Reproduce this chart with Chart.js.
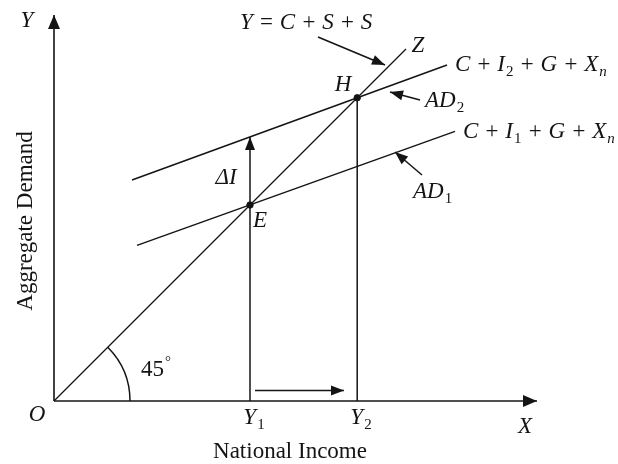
<!DOCTYPE html>
<html>
<head>
<meta charset="utf-8">
<title>Aggregate Demand and the Investment Multiplier</title>
<script src="https://cdn.jsdelivr.net/npm/chart.js@4.4.1/dist/chart.umd.min.js"></script>
<style>
  html, body { margin: 0; padding: 0; background: #fff; }
  #wrap { width: 618px; height: 464px; }
</style>
</head>
<body>
<div id="wrap"><canvas id="ad-chart" width="618" height="464"></canvas></div>
<script>
// Axis extents (national income on x, aggregate demand on y)
const xMax = 120.75;
const yMax = 96.5;

// Axes
const xAxisLine = [[0, 0], [xMax, 0]];
const yAxisLine = [[0, 0], [0, yMax]];

// 45 degree line Y = C + S + S, ending at Z
const diagonal = [[0, 0], [88, 88]];

// Aggregate demand schedules
const ad1 = [[20.75, 38.9], [100.25, 67.4]];   // C + I1 + G + Xn
const ad2 = [[19.5, 55.25], [98.25, 84.0]];    // C + I2 + G + Xn

// Equilibrium points E and H
const equilibria = [[49, 49], [75.8, 75.8]];

// Y1 up to AD2 (delta I), Y2 down from H, shift Y1 -> Y2
const y1Rise = [[49, 0], [49, 66]];
const y2Drop = [[75.8, 75.8], [75.8, 0]];
const incomeShift = [[50.25, 2.6], [72.5, 2.6]];

// Pointer arrows for the line captions
const diagonalPointer = [[66, 91], [82.75, 84]];
const ad2Pointer = [[91.5, 75.25], [84, 77.25]];
const ad1Pointer = [[92, 56.5], [85.25, 62.25]];

// 45 degree marker radius
const angleRadius = 19;

const toPoints = arr => arr.map(p => ({ x: p[0], y: p[1] }));

const ink = '#141414';

function lineSet(pts, opts) {
    return Object.assign({
        data: toPoints(pts),
        showLine: true,
        borderColor: ink,
        borderWidth: 1.5,
        pointRadius: 0,
        clip: false
    }, opts || {});
}

// Captions: position in data units, text with _x for subscript, ^x for superscript
const captions = [
    { t: 'Y', x: -6.75, y: 95, align: 'center' },
    { t: 'O', x: -4.25, y: -3.5, align: 'center' },
    { t: 'X', x: 117.75, y: -6.5, align: 'center' },
    { t: 'Y_1', x: 50, y: -4.25, align: 'center' },
    { t: 'Y_2', x: 76.75, y: -4.25, align: 'center' },
    { t: '45^°', x: 25.5, y: 7.75, align: 'center', upright: true },
    { t: 'ΔI', x: 43, y: 55.75, align: 'center' },
    { t: 'E', x: 51.5, y: 45, align: 'center' },
    { t: 'H', x: 72.25, y: 79, align: 'center' },
    { t: 'Z', x: 91, y: 88.75, align: 'center' },
    { t: 'Y = C + S + S', x: 46.5, y: 94.5, align: 'left' },
    { t: 'C + I_2 + G + X_n', x: 100.25, y: 84, align: 'left' },
    { t: 'C + I_1 + G + X_n', x: 102.25, y: 67.25, align: 'left' },
    { t: 'AD_2', x: 92.75, y: 75, align: 'left' },
    { t: 'AD_1', x: 89.75, y: 52.25, align: 'left' }
];

const serif = '"Liberation Serif", "Times New Roman", serif';

function parseRich(str) {
    const parts = [];
    for (let i = 0; i < str.length; i++) {
        const c = str[i];
        if ((c === '_' || c === '^') && i + 1 < str.length) {
            parts.push({ t: str[i + 1], mode: c === '_' ? 'sub' : 'sup' });
            i++;
        } else if (parts.length && parts[parts.length - 1].mode === 'base') {
            parts[parts.length - 1].t += c;
        } else {
            parts.push({ t: c, mode: 'base' });
        }
    }
    return parts;
}

function fontFor(p, upright) {
    if (p.mode === 'base') return (upright ? '' : 'italic ') + '23px ' + serif;
    // digits and symbols sit upright in the small size
    const slant = /[a-z]/i.test(p.t) && !upright ? 'italic ' : '';
    return slant + '15px ' + serif;
}

function drawRich(ctx, cap, px, py) {
    const parts = parseRich(cap.t);
    let total = 0;
    parts.forEach(p => {
        ctx.font = fontFor(p, cap.upright);
        p.w = ctx.measureText(p.t).width + (p.mode === 'base' ? 0 : 1);
        total += p.w;
    });
    let x = cap.align === 'center' ? px - total / 2 : px;
    ctx.textAlign = 'left';
    ctx.textBaseline = 'middle';
    parts.forEach(p => {
        ctx.font = fontFor(p, cap.upright);
        let dy = 0;
        if (p.mode === 'sub') dy = 7;
        if (p.mode === 'sup') dy = -8;
        ctx.fillText(p.t, x + (p.mode === 'base' ? 0 : 1), py + dy);
        x += p.w;
    });
}

function arrowHead(ctx, x0, y0, x1, y1, len, half) {
    const a = Math.atan2(y1 - y0, x1 - x0);
    ctx.beginPath();
    ctx.moveTo(x1, y1);
    ctx.lineTo(x1 - len * Math.cos(a) + half * Math.sin(a), y1 - len * Math.sin(a) - half * Math.cos(a));
    ctx.lineTo(x1 - len * Math.cos(a) - half * Math.sin(a), y1 - len * Math.sin(a) + half * Math.cos(a));
    ctx.closePath();
    ctx.fill();
}

// Arrowheads, angle marker and all the text
const diagramDecor = {
    id: 'diagramDecor',
    afterDatasetsDraw(chart) {
        const ctx = chart.ctx;
        const xs = chart.scales.x;
        const ys = chart.scales.y;
        ctx.save();
        ctx.fillStyle = ink;
        ctx.strokeStyle = ink;

        chart.data.datasets.forEach(ds => {
            if (!ds.arrow) return;
            const pts = ds.data;
            const a = pts[pts.length - 2];
            const b = pts[pts.length - 1];
            arrowHead(ctx,
                xs.getPixelForValue(a.x), ys.getPixelForValue(a.y),
                xs.getPixelForValue(b.x), ys.getPixelForValue(b.y),
                ds.arrow[0], ds.arrow[1]);
        });

        // 45 degree arc at the origin
        const ox = xs.getPixelForValue(0);
        const oy = ys.getPixelForValue(0);
        const r = xs.getPixelForValue(angleRadius) - ox;
        ctx.lineWidth = 1.5;
        ctx.beginPath();
        ctx.arc(ox, oy, r, -Math.PI / 4, 0);
        ctx.stroke();

        captions.forEach(cap => {
            drawRich(ctx, cap, xs.getPixelForValue(cap.x), ys.getPixelForValue(cap.y));
        });

        // Axis titles
        ctx.font = '23px ' + serif;
        ctx.textAlign = 'center';
        ctx.textBaseline = 'alphabetic';
        ctx.fillText('National Income', 290, 458);
        ctx.save();
        ctx.translate(32, 221);
        ctx.rotate(-Math.PI / 2);
        ctx.fillText('Aggregate Demand', 0, 0);
        ctx.restore();

        ctx.restore();
    }
};

new Chart(document.getElementById('ad-chart'), {
    type: 'scatter',
    data: {
        datasets: [
            lineSet(xAxisLine, { arrow: [14, 6], borderWidth: 1.6 }),
            lineSet(yAxisLine, { arrow: [14, 6], borderWidth: 1.6 }),
            lineSet(diagonal, { borderWidth: 1.3 }),
            lineSet(ad1),
            lineSet(ad2),
            lineSet(y1Rise, { arrow: [13, 5] }),
            lineSet(y2Drop),
            lineSet(incomeShift, { arrow: [13, 5] }),
            lineSet(diagonalPointer, { arrow: [13, 5] }),
            lineSet(ad2Pointer, { arrow: [13, 5] }),
            lineSet(ad1Pointer, { arrow: [13, 5] }),
            {
                data: toPoints(equilibria),
                showLine: false,
                pointRadius: 3.2,
                pointBackgroundColor: ink,
                pointBorderColor: ink,
                clip: false
            }
        ]
    },
    options: {
        responsive: false,
        animation: false,
        devicePixelRatio: 1,
        layout: { padding: { left: 54, right: 81, top: 15, bottom: 63 } },
        plugins: {
            legend: { display: false },
            tooltip: { enabled: false }
        },
        scales: {
            x: { type: 'linear', min: 0, max: xMax, display: false },
            y: { type: 'linear', min: 0, max: yMax, display: false }
        }
    },
    plugins: [diagramDecor]
});
</script>
</body>
</html>
